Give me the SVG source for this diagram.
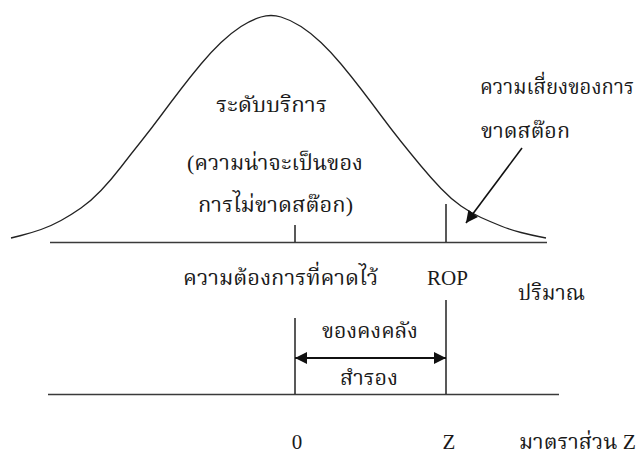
<svg xmlns="http://www.w3.org/2000/svg" width="644" height="454" viewBox="0 0 644 454">
<style>
text{font-family:"Liberation Serif","Noto Serif Thai","Noto Sans Thai","Noto Sans",serif;font-size:21px;fill:#1a1a1a}
.th{font-size:22px}
.ln{stroke:#3a3a3a;stroke-width:1.7;fill:none}
.tk{stroke:#222;stroke-width:1.5;fill:none}
</style>
<defs>
<marker id="ah" viewBox="0 0 12 12" refX="12" refY="6" markerWidth="13" markerHeight="12" markerUnits="userSpaceOnUse" orient="auto-start-reverse"><path d="M0,0 L12,6 L0,12 z" fill="#111"/></marker>
</defs>
<rect width="644" height="454" fill="#fff"/>
<g id="curve"><path d="M11,238 L21,235.5 Q31,233 41,229.5 Q51,226 61,220.5 Q71,215 81,208 Q91,201 101,190.5 Q111,180 121,167 Q131,154 141,141.5 Q151,129 161,115.5 Q171,102 181,89 Q191,76 201,64 Q211,52 221,42.5 Q231,33 241,26.5 Q251,20 261,17 Q271,14 281,17 Q291,20 301,26.5 Q311,33 321,42.5 Q331,52 341,64 Q351,76 361,89 Q371,102 381,115.5 Q391,129 401,141.5 Q411,154 421,166 Q431,178 441,188.5 Q451,199 461,206 Q471,213 481,217.5 Q491,222 501,226 Q511,230 521,232.5 Q531,235 538.5,236.5 L546,238" stroke="#222" stroke-width="1.3" fill="none"/></g>
<g id="connectors">
<line class="ln" x1="50" y1="242.5" x2="547" y2="242.5"/>
<line class="tk" x1="295" y1="225" x2="295" y2="242"/>
<line class="tk" x1="446" y1="204" x2="446" y2="242"/>
<line stroke="#111" stroke-width="1.6" x1="522" y1="148" x2="466" y2="223" marker-end="url(#ah)"/>
<line class="ln" x1="48" y1="394.5" x2="559" y2="394.5"/>
<line class="tk" x1="295" y1="318" x2="295" y2="394"/>
<line class="tk" x1="446" y1="300" x2="446" y2="394"/>
<line stroke="#111" stroke-width="2" x1="295" y1="358" x2="446" y2="358" marker-start="url(#ah)" marker-end="url(#ah)"/>
</g>
<g id="service-level">
<text class="th" x="216" y="112" textLength="111" lengthAdjust="spacingAndGlyphs">ระดับบริการ</text>
<text class="th" x="187" y="170" textLength="176" lengthAdjust="spacingAndGlyphs">(ความน่าจะเป็นของ</text>
<text class="th" x="198" y="212" textLength="155" lengthAdjust="spacingAndGlyphs">การไม่ขาดสต๊อก)</text>
</g>
<g id="stockout-risk">
<text x="480" y="94" font-size="20" textLength="154" lengthAdjust="spacingAndGlyphs">ความเสี่ยงของการ</text>
<text class="th" x="481" y="138" textLength="89" lengthAdjust="spacingAndGlyphs">ขาดสต๊อก</text>
</g>
<g id="labels">
<text class="th" x="183" y="285" textLength="195" lengthAdjust="spacingAndGlyphs">ความต้องการที่คาดไว้</text>
<text x="427" y="285" textLength="41" lengthAdjust="spacingAndGlyphs">ROP</text>
<text class="th" x="518" y="300" textLength="67" lengthAdjust="spacingAndGlyphs">ปริมาณ</text>
<text class="th" x="322" y="338" textLength="96" lengthAdjust="spacingAndGlyphs">ของคงคลัง</text>
<text class="th" x="340" y="385" textLength="58" lengthAdjust="spacingAndGlyphs">สำรอง</text>
<text x="297" y="449" text-anchor="middle">0</text>
<text x="449" y="449" text-anchor="middle">Z</text>
<text class="th" x="519" y="449" textLength="117" lengthAdjust="spacingAndGlyphs">มาตราส่วน Z</text>
</g>
</svg>
